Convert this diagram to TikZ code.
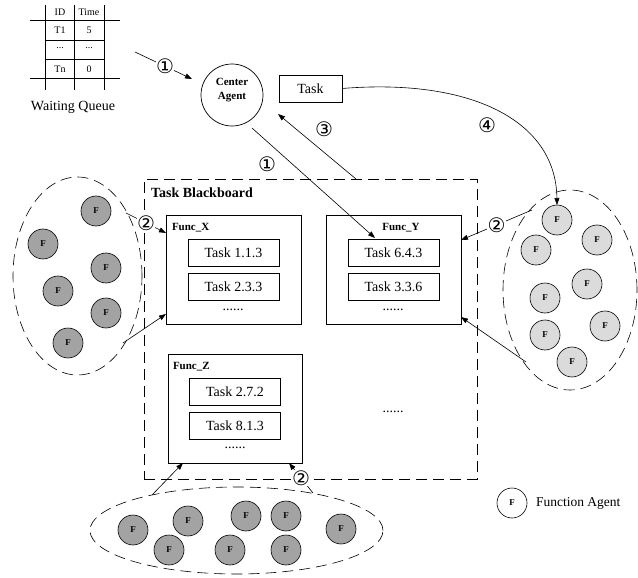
\documentclass[tikz,border=0pt]{standalone}
\usepackage{fontspec}
\setmainfont{Liberation Serif}
\newfontfamily\circfont{DejaVu Sans}
\usetikzlibrary{arrows.meta,shapes.geometric}
\definecolor{fdark}{gray}{0.64}
\definecolor{flight}{gray}{0.86}
\begin{document}
\begin{tikzpicture}[x=1pt,y=-1pt,
  every node/.style={inner sep=0pt, outer sep=0pt},
  conn/.style={-{Triangle[length=7pt,width=5pt]}, line width=0.6pt},
  fa/.style={circle, draw, line width=0.6pt, minimum size=30pt, inner sep=0pt, font=\bfseries\fontsize{9}{9}\selectfont},
  fdarkagent/.style={fa, fill=fdark},
  flightagent/.style={fa, fill=flight},
  taskbox/.style={draw, line width=0.7pt, minimum width=91pt, minimum height=27pt, font=\fontsize{14}{14}\selectfont},
  funcbox/.style={draw, line width=0.7pt, minimum width=135pt, minimum height=109pt},
  functitle/.style={font=\bfseries\fontsize{11}{11}\selectfont},
  dotstext/.style={font=\fontsize{14}{14}\selectfont},
  circnum/.style={font=\circfont\fontsize{20}{20}\selectfont, fill=white, inner sep=0.3pt},
  circlab/.style={font=\circfont\fontsize{20}{20}\selectfont},
  dashedline/.style={dash pattern=on 11pt off 6pt, line width=0.6pt},
  groupell/.style={ellipse, draw, dashedline},
  tabtext/.style={font=\fontsize{10}{10}\selectfont},
  tabline/.style={line width=0.8pt}
]
\useasboundingbox (0,0) rectangle (638,578);

% Waiting queue table
\draw[tabline] (45,5) -- (45,90) (74,5) -- (74,90) (104,5) -- (104,90);
\draw[tabline] (30,20) -- (120,20) (30,78) -- (120,78);
\draw[tabline] (45,40) -- (104,40) (45,59) -- (104,59);
\node[tabtext] (hid) at (60,12) {ID};
\node[tabtext] (htime) at (89,12) {Time};
\node[tabtext] (r1id) at (60,30) {T1};
\node[tabtext] (r1t) at (89,30) {5};
\node[tabtext] (r2id) at (60,48) {...};
\node[tabtext] (r2t) at (89,48) {...};
\node[tabtext] (r3id) at (60,69) {Tn};
\node[tabtext] (r3t) at (89,69) {0};
\node[font=\fontsize{14}{14}\selectfont] (wq) at (73,107) {Waiting Queue};

% Center agent and task
\node[circle, draw, line width=0.7pt, minimum size=62pt] (center) at (232,95) {};
\node[align=center, font=\bfseries\fontsize{11}{14}\selectfont] (centertext) at (232,90) {Center\\Agent};
\node[draw, line width=0.7pt, minimum width=63pt, minimum height=27pt, font=\fontsize{14}{14}\selectfont] (task) at (310.5,88.5) {Task};

% Blackboard
\node[draw, dashedline, minimum width=333pt, minimum height=300pt] (board) at (310.5,329) {};
\node[anchor=west, font=\bfseries\fontsize{14}{14}\selectfont] (boardtitle) at (151,193) {Task Blackboard};

% Func_X
\node[funcbox] (fx) at (233.5,269.5) {};
\node[functitle, anchor=west] (fxt) at (172,228) {Func\_X};
\node[taskbox] (t113) at (233.5,252.5) {Task 1.1.3};
\node[taskbox] (t233) at (233.5,286.5) {Task 2.3.3};
\node[dotstext] (fxd) at (233,310) {......};

% Func_Y
\node[funcbox] (fy) at (393.5,269.5) {};
\node[functitle] (fyt) at (401,228) {Func\_Y};
\node[taskbox] (t643) at (393.5,252.5) {Task 6.4.3};
\node[taskbox] (t336) at (393.5,286.5) {Task 3.3.6};
\node[dotstext] (fyd) at (393,310) {......};

% Func_Z
\node[funcbox, minimum width=134pt] (fz) at (235,408.5) {};
\node[functitle, anchor=west] (fzt) at (173,367) {Func\_Z};
\node[taskbox] (t272) at (235,391.5) {Task 2.7.2};
\node[taskbox] (t813) at (235,425.5) {Task 8.1.3};
\node[dotstext] (fzd) at (235,448) {......};

\node[dotstext] (boardd) at (393,412) {......};

% Groups
\node[groupell, minimum width=129pt, minimum height=198pt] (leftgroup) at (77.5,276) {};
\node[groupell, minimum width=134pt, minimum height=200pt] (rightgroup) at (570,290) {};
\node[groupell, minimum width=293pt, minimum height=87pt] (bottomgroup) at (236.5,530.5) {};

\node[fdarkagent] (lf1) at (96,211) {F};
\node[fdarkagent] (lf2) at (43,244) {F};
\node[fdarkagent] (lf3) at (106,268) {F};
\node[fdarkagent] (lf4) at (58,291) {F};
\node[fdarkagent] (lf5) at (106,313) {F};
\node[fdarkagent] (lf6) at (68,343) {F};

\node[flightagent] (rf1) at (557,220) {F};
\node[flightagent] (rf2) at (536,250) {F};
\node[flightagent] (rf3) at (597,240) {F};
\node[flightagent] (rf4) at (587,284) {F};
\node[flightagent] (rf5) at (545,298) {F};
\node[flightagent] (rf6) at (605,326) {F};
\node[flightagent] (rf7) at (545,335) {F};
\node[flightagent] (rf8) at (572,362) {F};

\node[fdarkagent] (bf1) at (133,530) {F};
\node[fdarkagent] (bf2) at (188,521) {F};
\node[fdarkagent] (bf3) at (169,550) {F};
\node[fdarkagent] (bf4) at (246,516) {F};
\node[fdarkagent] (bf5) at (230,550) {F};
\node[fdarkagent] (bf6) at (286,516) {F};
\node[fdarkagent] (bf7) at (286,550) {F};
\node[fdarkagent] (bf8) at (341,529) {F};

% Legend
\node[fa, fill=white] (legendf) at (512,503) {F};
\node[anchor=west, font=\fontsize{13.5}{14}\selectfont] (legendt) at (536,503) {Function Agent};

% Connector end points
\coordinate (q1s) at (135,52);
\coordinate (q1e) at (192,79);
\coordinate (a3s) at (356,179);
\coordinate (a3e) at (278,114);
\coordinate (a1s) at (252,128);
\coordinate (a1e) at (375,238);
\coordinate (l2s) at (126,213);
\coordinate (l2e) at (166,233);
\coordinate (l3s) at (123,343);
\coordinate (l3e) at (166,314);
\coordinate (r2s) at (532,210);
\coordinate (r2e) at (461,240);
\coordinate (r3s) at (526,362);
\coordinate (r3e) at (461,317);
\coordinate (b1s) at (152,495);
\coordinate (b1e) at (183,463);
\coordinate (b2s) at (313,493);
\coordinate (b2e) at (289,463);

% Connectors
\draw[conn] (q1s) -- node[circnum, pos=0.53] (n1a) {①} (q1e);
\draw[conn] (a3s) -- (a3e);
\node[circlab] (n3) at (324,129) {③};
\draw[conn] (a1s) -- (a1e);
\node[circlab] (n1b) at (267,164) {①};
\draw[conn] (task.east) .. controls (470,78) and (556,120) .. (rf1.north);
\node[circlab] (n4) at (487,125) {④};
\draw[conn] (l2s) -- node[circnum, pos=0.5] (n2l) {②} (l2e);
\draw[conn] (l3s) -- (l3e);
\draw[conn] (r2s) -- node[circnum, pos=0.5] (n2r) {②} (r2e);
\draw[conn] (r3s) -- (r3e);
\draw[conn] (b1s) -- (b1e);
\draw[conn] (b2s) -- node[circnum, pos=0.5] (n2b) {②} (b2e);
\end{tikzpicture}
\end{document}
